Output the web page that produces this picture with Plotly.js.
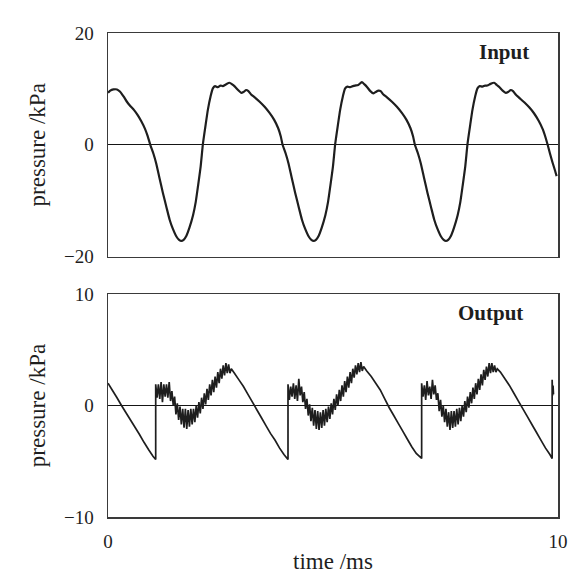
<!DOCTYPE html>
<html>
<head>
<meta charset="utf-8">
<script src="https://cdn.plot.ly/plotly-3.0.1.min.js"></script>
<style>
  html, body { margin: 0; padding: 0; background: #ffffff; }
  #chart { width: 577px; height: 574px; }
</style>
</head>
<body>
<div id="chart"></div>
<script>
// ---- Input pressure (top panel) ----
const inputTime = [
  0.00, 0.05, 0.12, 0.20, 0.27, 0.35, 0.42, 0.50, 0.58, 0.66, 0.74, 0.82, 0.88,
  0.94, 1.01, 1.07, 1.14, 1.22, 1.30, 1.37, 1.44, 1.52, 1.58, 1.63, 1.68, 1.74, 1.81, 1.89, 1.95,
  2.00, 2.06, 2.11, 2.17, 2.22, 2.28, 2.33, 2.38, 2.44, 2.50, 2.55, 2.62, 2.70, 2.76, 2.82, 2.89,
  2.96, 3.02, 3.07, 3.12, 3.18, 3.26, 3.37, 3.48, 3.59, 3.69, 3.78, 3.84,
  3.88, 3.95, 4.01, 4.08, 4.16, 4.24, 4.31, 4.38, 4.46, 4.52, 4.57, 4.62, 4.68, 4.75, 4.83, 4.89,
  4.94, 5.00, 5.05, 5.11, 5.16, 5.22, 5.27, 5.32, 5.38, 5.44, 5.49, 5.56, 5.64, 5.70, 5.76, 5.83,
  5.90, 5.96, 6.01, 6.06, 6.12, 6.20, 6.31, 6.42, 6.53, 6.63, 6.72, 6.78,
  6.82, 6.89, 6.95, 7.02, 7.10, 7.18, 7.25, 7.32, 7.40, 7.46, 7.51, 7.56, 7.62, 7.69, 7.77, 7.83,
  7.88, 7.94, 7.99, 8.05, 8.10, 8.16, 8.21, 8.26, 8.32, 8.38, 8.43, 8.50, 8.58, 8.64, 8.70, 8.77,
  8.84, 8.90, 8.95, 9.00, 9.06, 9.14, 9.25, 9.36, 9.47, 9.57, 9.66, 9.72,
  9.77, 9.82, 9.88, 9.93, 9.97
];
const inputPressure = [
  9.3, 9.7, 9.9, 9.9, 9.5, 8.6, 7.7, 6.9, 6.2, 5.3, 4.2, 2.9, 1.6,
  0.0, -1.6, -3.3, -5.8, -8.6, -11.2, -13.4, -15.0, -16.4, -17.0, -17.2, -17.0, -16.3, -14.8, -12.6, -10.2,
  -7.4, -3.8, 0.2, 3.6, 6.3, 8.7, 10.1, 10.5, 10.3, 10.6, 10.5, 10.8, 11.1, 10.8, 10.4, 9.8,
  9.3, 9.5, 9.8, 9.6, 9.0, 8.5, 7.7, 6.8, 5.7, 4.5, 3.0, 1.5,
  0.0, -1.6, -3.3, -5.8, -8.6, -11.2, -13.4, -15.0, -16.4, -17.0, -17.2, -17.0, -16.3, -14.8, -12.6, -10.2,
  -7.4, -3.8, 0.2, 3.6, 6.3, 8.7, 10.1, 10.4, 10.3, 10.5, 10.6, 10.7, 11.2, 10.8, 10.3, 9.6,
  9.2, 9.5, 9.7, 9.6, 9.0, 8.5, 7.7, 6.8, 5.7, 4.5, 3.0, 1.5,
  0.0, -1.6, -3.3, -5.8, -8.6, -11.2, -13.4, -15.0, -16.4, -17.0, -17.2, -17.0, -16.3, -14.8, -12.6, -10.2,
  -7.4, -3.8, 0.2, 3.6, 6.3, 8.7, 10.1, 10.5, 10.4, 10.6, 10.6, 10.9, 11.1, 10.7, 10.3, 9.7,
  9.3, 9.5, 9.8, 9.6, 9.0, 8.4, 7.6, 6.7, 5.6, 4.3, 2.8, 1.4,
  0.0, -1.5, -3.2, -4.5, -5.6
];

// ---- Output pressure (bottom panel) ----
const outputTime = [
  0.00, 0.10, 0.20, 0.30, 0.40, 0.50, 0.60, 0.70, 0.80, 0.90, 1.00, 1.06,
  1.06, 1.09, 1.12, 1.15, 1.18, 1.21, 1.24, 1.27, 1.30, 1.33, 1.36, 1.39, 1.42, 1.45, 1.48, 1.51,
  1.54, 1.57, 1.60, 1.63, 1.66, 1.69, 1.72, 1.75, 1.78, 1.81, 1.84, 1.87, 1.90, 1.93, 1.96, 1.99,
  2.02, 2.05, 2.08, 2.11, 2.14, 2.17, 2.20, 2.23, 2.26, 2.29, 2.32, 2.35, 2.38, 2.41, 2.44, 2.47,
  2.50, 2.53, 2.56, 2.59, 2.62, 2.65, 2.68, 2.71, 2.74,
  2.81, 2.91, 3.01, 3.11, 3.21, 3.31, 3.41, 3.51, 3.61, 3.71, 3.81, 3.91, 4.00,
  4.00, 4.03, 4.06, 4.09, 4.12, 4.15, 4.18, 4.21, 4.24, 4.27, 4.30, 4.33, 4.36, 4.39, 4.42, 4.45,
  4.48, 4.51, 4.54, 4.57, 4.60, 4.63, 4.66, 4.69, 4.72, 4.75, 4.78, 4.81, 4.84, 4.87, 4.90, 4.93,
  4.96, 4.99, 5.02, 5.05, 5.08, 5.11, 5.14, 5.17, 5.20, 5.23, 5.26, 5.29, 5.32, 5.35, 5.38, 5.41,
  5.44, 5.47, 5.50, 5.53, 5.56, 5.59, 5.62, 5.65, 5.68,
  5.75, 5.85, 5.95, 6.05, 6.15, 6.25, 6.35, 6.45, 6.55, 6.65, 6.75, 6.85, 6.97,
  6.97, 7.00, 7.03, 7.06, 7.09, 7.12, 7.15, 7.18, 7.21, 7.24, 7.27, 7.30, 7.33, 7.36, 7.39, 7.42,
  7.45, 7.48, 7.51, 7.54, 7.57, 7.60, 7.63, 7.66, 7.69, 7.72, 7.75, 7.78, 7.81, 7.84, 7.87, 7.90,
  7.93, 7.96, 7.99, 8.02, 8.05, 8.08, 8.11, 8.14, 8.17, 8.20, 8.23, 8.26, 8.29, 8.32, 8.35, 8.38,
  8.41, 8.44, 8.47, 8.50, 8.53, 8.56, 8.59, 8.62, 8.65,
  8.72, 8.82, 8.92, 9.02, 9.12, 9.22, 9.32, 9.42, 9.52, 9.62, 9.72, 9.82, 9.87,
  9.87, 9.88, 9.89, 9.90
];
const outputPressure = [
  2.0, 1.35, 0.7, 0.0, -0.65, -1.3, -1.95, -2.6, -3.3, -3.95, -4.55, -4.85,
  1.9, 0.7, 1.9, 0.6, 2.1, 0.3, 1.9, 0.8, 1.9, 0.7, 2.1, 0.4, 1.3, 0.0, 0.8, -0.8,
  0.2, -1.3, -0.1, -1.7, -0.3, -2.0, -0.3, -2.1, -0.4, -1.9, -0.3, -1.7, -0.3, -1.5, 0.0, -1.1,
  0.3, -0.7, 0.7, -0.3, 1.1, 0.1, 1.5, 0.5, 1.9, 0.9, 2.3, 1.2, 2.6, 1.6, 3.0, 2.0,
  3.3, 2.4, 3.6, 2.7, 3.8, 2.9, 3.7, 2.9, 3.3,
  2.9, 2.3, 1.7, 1.0, 0.3, -0.4, -1.1, -1.8, -2.5, -3.1, -3.8, -4.4, -4.85,
  1.9, 0.5, 1.7, 0.8, 2.0, 0.6, 1.8, 0.4, 2.4, 0.9, 1.7, 0.3, 1.2, -0.3, 0.6, -0.9,
  0.1, -1.4, -0.2, -1.8, -0.4, -2.1, -0.5, -2.2, -0.6, -2.0, -0.4, -1.8, -0.3, -1.5, -0.1, -1.2,
  0.2, -0.8, 0.6, -0.4, 1.0, 0.0, 1.4, 0.4, 1.8, 0.8, 2.2, 1.2, 2.6, 1.6, 3.0, 2.0,
  3.3, 2.5, 3.6, 2.8, 3.8, 3.0, 3.9, 3.1, 3.5,
  3.1, 2.6, 2.0, 1.4, 0.6, -0.2, -0.9, -1.6, -2.3, -3.0, -3.7, -4.3, -4.75,
  2.0, 0.8, 1.8, 0.5, 2.2, 0.9, 1.7, 0.6, 2.3, 1.0, 1.8, 0.5, 1.1, -0.5, 0.5, -1.0,
  0.0, -1.5, -0.3, -1.9, -0.6, -2.2, -0.5, -2.0, -0.5, -1.9, -0.3, -1.7, -0.2, -1.4, 0.0, -1.0,
  0.4, -0.6, 0.8, -0.2, 1.2, 0.2, 1.6, 0.6, 2.0, 1.0, 2.4, 1.4, 2.8, 1.8, 3.2, 2.3,
  3.5, 2.6, 3.8, 2.9, 3.8, 3.0, 3.6, 3.0, 3.3,
  3.0, 2.4, 1.8, 1.1, 0.4, -0.3, -1.0, -1.7, -2.4, -3.1, -3.8, -4.4, -4.75,
  2.3, 0.9, 1.8, 1.0
];

// ---- Axis ticks and labels ----
const inputTicks = [-20, 0, 20];
const outputTicks = [-10, 0, 10];
const timeTicks = [0, 10];
const panelLabels = ['Input', 'Output'];
const yTitle = 'pressure /kPa';
const xTitle = 'time /ms';

const serif = 'Liberation Serif, Times New Roman, serif';
const ink = '#1e1e1e';
const frame = '#3a3a3a';

const traces = [
  {
    x: inputTime, y: inputPressure, type: 'scatter', mode: 'lines',
    xaxis: 'x', yaxis: 'y',
    line: { color: ink, width: 2.2, simplify: false, shape: 'spline', smoothing: 0.6 },
    hoverinfo: 'skip', showlegend: false
  },
  {
    x: outputTime, y: outputPressure, type: 'scatter', mode: 'lines',
    xaxis: 'x2', yaxis: 'y2',
    line: { color: ink, width: 1.7, simplify: false },
    hoverinfo: 'skip', showlegend: false
  }
];

const axisCommon = {
  showline: true, mirror: true, linecolor: frame, linewidth: 1.5,
  showgrid: false, ticks: 'outside', tickcolor: 'rgba(0,0,0,0)',
  tickfont: { family: serif, size: 19, color: ink }
};

const layout = {
  width: 577, height: 574,
  margin: { l: 108, r: 19, t: 33, b: 57 },
  paper_bgcolor: '#ffffff', plot_bgcolor: '#ffffff',
  font: { family: serif, color: ink },
  showlegend: false,
  xaxis: Object.assign({}, axisCommon, {
    domain: [0, 1], range: [0, 10], anchor: 'y',
    showticklabels: false, zeroline: false, ticklen: 0, tickvals: timeTicks
  }),
  yaxis: Object.assign({}, axisCommon, {
    domain: [0.538, 1], range: [-20, 20], anchor: 'x',
    tickvals: inputTicks, ticklen: 9,
    zeroline: true, zerolinecolor: '#151515', zerolinewidth: 1,
    title: { text: yTitle, font: { family: serif, size: 23, color: ink }, standoff: 12 }
  }),
  xaxis2: Object.assign({}, axisCommon, {
    domain: [0, 1], range: [0, 10], anchor: 'y2',
    tickvals: timeTicks, ticklen: 7, zeroline: false,
    title: { text: xTitle, font: { family: serif, size: 23, color: ink }, standoff: 4 }
  }),
  yaxis2: Object.assign({}, axisCommon, {
    domain: [0, 0.4607], range: [-10, 10], anchor: 'x2',
    tickvals: outputTicks, ticklen: 9,
    zeroline: true, zerolinecolor: '#151515', zerolinewidth: 1,
    title: { text: yTitle, font: { family: serif, size: 23, color: ink }, standoff: 12 }
  }),
  annotations: [
    { text: '<b>' + panelLabels[0] + '</b>', xref: 'x', yref: 'y', x: 8.8, y: 16.6,
      showarrow: false, font: { family: serif, size: 21, color: ink } },
    { text: '<b>' + panelLabels[1] + '</b>', xref: 'x2', yref: 'y2', x: 8.49, y: 8.3,
      showarrow: false, font: { family: serif, size: 21, color: ink } }
  ]
};

Plotly.newPlot('chart', traces, layout, { staticPlot: true, displayModeBar: false });
</script>
</body>
</html>
